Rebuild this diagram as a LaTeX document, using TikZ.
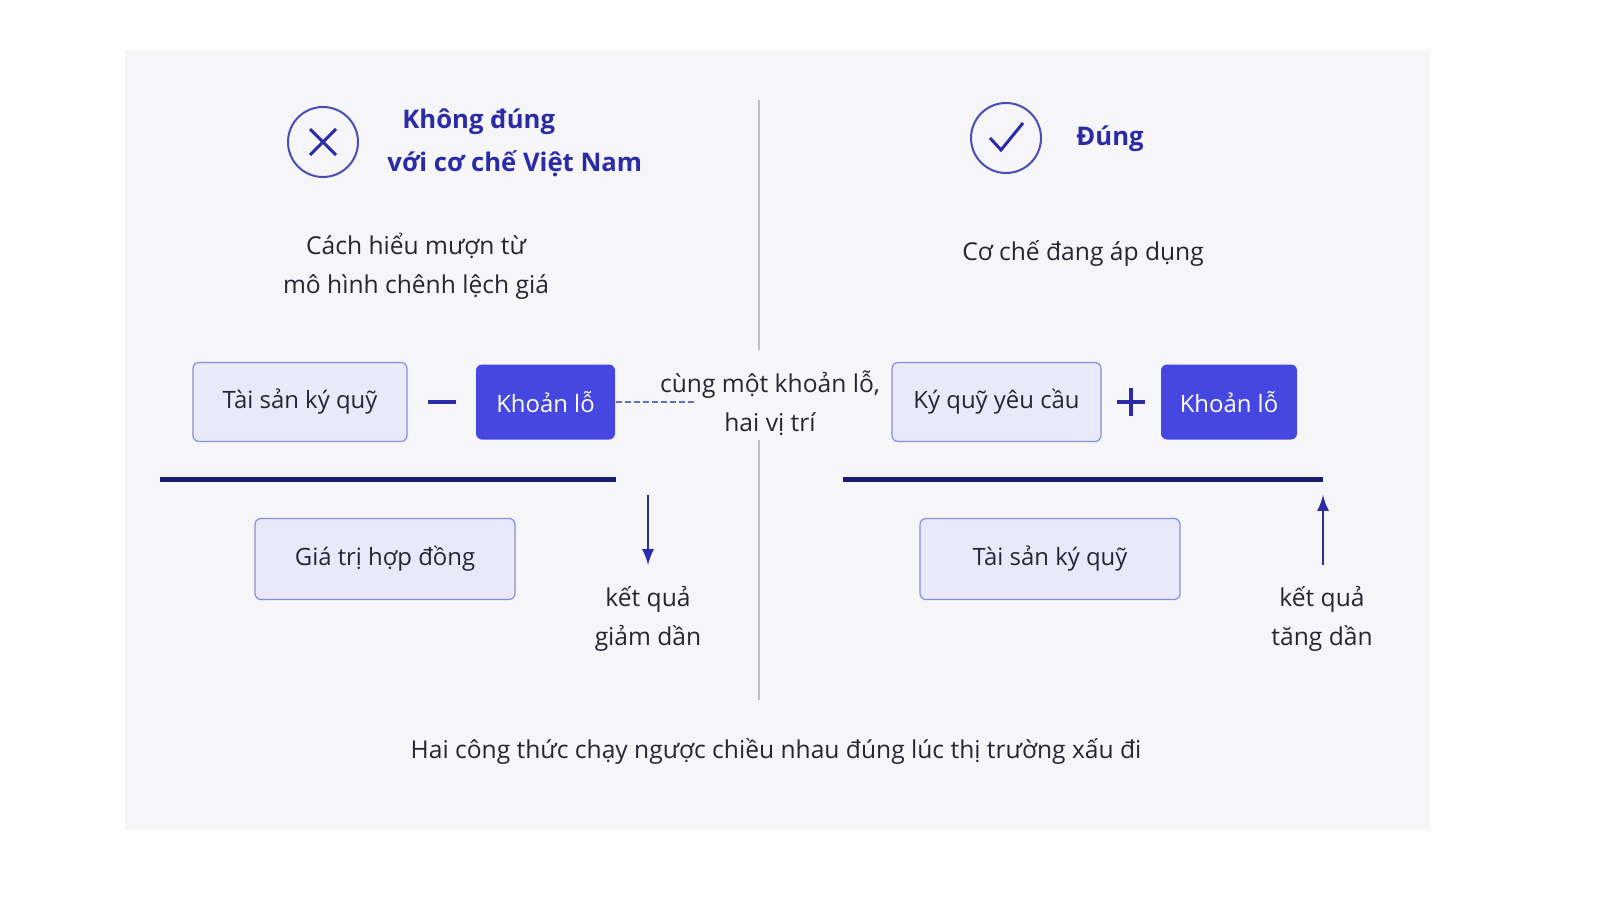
\documentclass[tikz,border=0pt]{standalone}
\usepackage{fontspec}
\setmainfont{Open Sans}
\definecolor{navy}{HTML}{1C1C6E}
\definecolor{titleblue}{HTML}{2B2BA8}
\definecolor{boxfill}{HTML}{E9E9FA}
\definecolor{boxline}{HTML}{8A8AE0}
\definecolor{lossfill}{HTML}{4646E0}
\definecolor{panel}{HTML}{F6F6F9}
\definecolor{ink}{HTML}{262633}
\tikzset{
  term/.style={draw=boxline, fill=boxfill, rounded corners=0.06cm, line width=0.012cm, text=ink, font=\fontsize{6.8}{9}\selectfont},
  loss/.style={fill=lossfill, rounded corners=0.06cm, text=white, font=\fontsize{6.8}{9}\selectfont},
  txt/.style={text=ink, font=\fontsize{7}{11}\selectfont, align=center},
  ttl/.style={text=titleblue, font=\bfseries\fontsize{7.3}{12}\selectfont, anchor=west},
  bar/.style={navy, line width=0.05cm},
  badge/.style={draw=titleblue!85, line width=0.02cm, circle, minimum size=0.7cm}
}
\begin{document}
\begin{tikzpicture}
                {
                % Drawing background
                \useasboundingbox (0,0) rectangle (16,9);
                \fill[white] (0,0) rectangle (16,9);
                \fill[panel] (1.25,0.70) rectangle (14.30,8.50);

                % Drawing divider
                \coordinate (d1) at (7.59,8.00);
                \coordinate (d2) at (7.59,5.50);
                \coordinate (d3) at (7.59,4.60);
                \coordinate (d4) at (7.59,2.00);
                \draw [gray!50, line width=0.012cm] (d1) -- (d2);%
                \draw [gray!50, line width=0.012cm] (d3) -- (d4);%

                % Marking wrong side
                \node [badge] (xmark) at (3.23,7.58) {};
                \draw [titleblue, line width=0.03cm] (3.10,7.71) -- (3.36,7.45);%
                \draw [titleblue, line width=0.03cm] (3.10,7.45) -- (3.36,7.71);%
                \node [ttl] (wrong) at (3.90,7.78) {Không đúng};
                \node [ttl] (wrong2) at (3.75,7.36) {với cơ chế Việt Nam};
                \node [txt] (wrongsub) at (4.16,6.34) {Cách hiểu mượn từ\\mô hình chênh lệch giá};

                % Marking right side
                \node [badge] (vmark) at (10.06,7.62) {};
                \draw [titleblue, line width=0.03cm] (9.90,7.62) -- (10.01,7.50) -- (10.23,7.77);%
                \node [ttl] (right) at (10.64,7.61) {Đúng};
                \node [txt] (rightsub) at (10.83,6.47) {Cơ chế đang áp dụng};

                % Drawing left formula
                \node [term, minimum width=2.14cm, minimum height=0.79cm] (collat) at (3.00,4.98) {Tài sản ký quỹ};
                \draw [titleblue, line width=0.035cm] (4.28,4.98) -- (4.56,4.98);%
                \node [loss, minimum width=1.39cm, minimum height=0.75cm] (lossl) at (5.455,4.98) {Khoản lỗ};
                \coordinate (dashend) at (6.95,4.98);
                \draw [titleblue!70, dash pattern=on 0.06cm off 0.03cm, line width=0.012cm] (lossl.east) -- (dashend);%
                \node [txt] (same) at (7.70,4.97) {cùng một khoản lỗ,\\hai vị trí};
                \draw [bar] (1.60,4.21) -- (6.16,4.21);%
                \node [term, minimum width=2.60cm, minimum height=0.81cm] (contract) at (3.85,3.41) {Giá trị hợp đồng};
                \coordinate (da) at (6.48,4.05);
                \coordinate (db) at (6.48,3.35);
                \draw [-latex, titleblue, line width=0.02cm] (da) -- (db);%
                \node [txt] (down) at (6.48,2.81) {kết quả\\giảm dần};

                % Drawing right formula
                \node [term, minimum width=2.09cm, minimum height=0.79cm] (req) at (9.965,4.98) {Ký quỹ yêu cầu};
                \draw [titleblue, line width=0.035cm] (11.17,4.98) -- (11.45,4.98);%
                \draw [titleblue, line width=0.035cm] (11.31,4.84) -- (11.31,5.12);%
                \node [loss, minimum width=1.36cm, minimum height=0.75cm] (lossr) at (12.29,4.98) {Khoản lỗ};
                \draw [bar] (8.43,4.21) -- (13.23,4.21);%
                \node [term, minimum width=2.60cm, minimum height=0.81cm] (collat2) at (10.50,3.41) {Tài sản ký quỹ};
                \coordinate (ua) at (13.23,3.35);
                \coordinate (ub) at (13.23,4.05);
                \draw [-latex, titleblue, line width=0.02cm] (ua) -- (ub);%
                \node [txt] (up) at (13.22,2.81) {kết quả\\tăng dần};

                % Marking conclusion
                \node [txt] (concl) at (7.76,1.49) {Hai công thức chạy ngược chiều nhau đúng lúc thị trường xấu đi};
                }
                \end{tikzpicture}
\end{document}
